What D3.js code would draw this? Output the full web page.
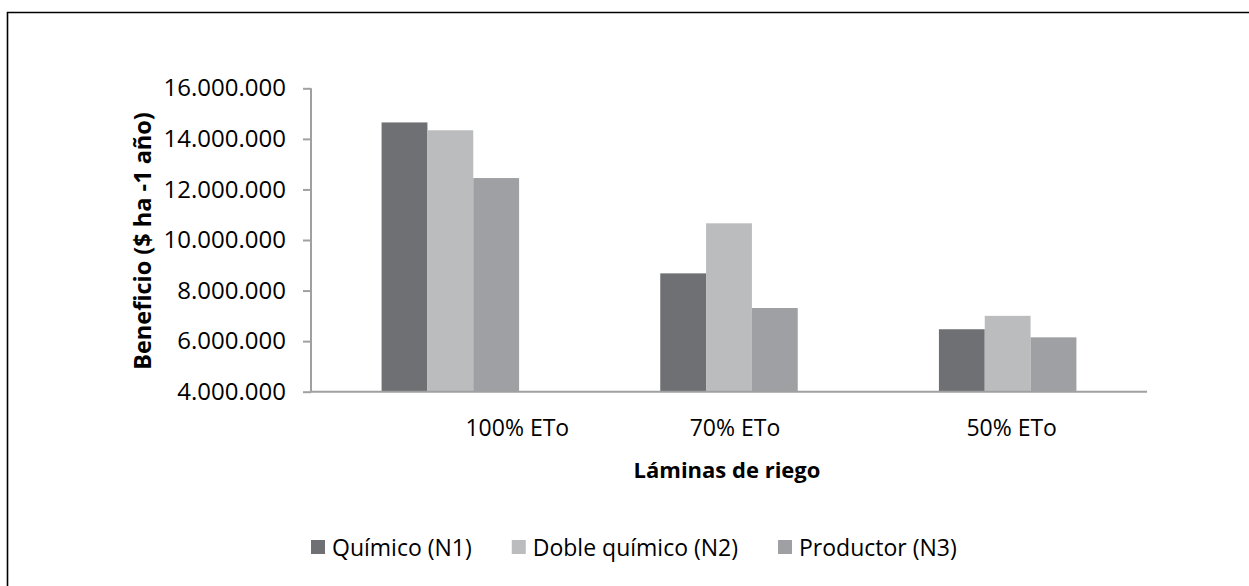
<!DOCTYPE html>
<html>
<head>
<meta charset="utf-8">
<script src="https://cdn.jsdelivr.net/npm/d3@7"></script>
<style>
  html, body { margin: 0; padding: 0; background: #fff; }
  svg { display: block; }
  text { font-family: "Open Sans", "DejaVu Sans", sans-serif; fill: #000; }
</style>
</head>
<body>
<svg id="chart" width="1249" height="586"></svg>
<script>
// ---- data ----
const categories = ["100% ETo", "70% ETo", "50% ETo"];
const seriesNames = ["Químico (N1)", "Doble químico (N2)", "Productor (N3)"];
const quimicoN1 = [14650000, 8680000, 6470000];
const dobleQuimicoN2 = [14340000, 10660000, 7000000];
const productorN3 = [12450000, 7310000, 6150000];
const yTicks = [4000000, 6000000, 8000000, 10000000, 12000000, 14000000, 16000000];
const seriesColors = ["#6f7074", "#bbbcbe", "#9fa0a4"];
const yTitle = "Beneficio ($ ha -1 año)";
const xTitle = "Láminas de riego";

const seriesValues = [quimicoN1, dobleQuimicoN2, productorN3];

// ---- layout ----
const svg = d3.select("#chart");
const plot = { left: 311, right: 1147, top: 88.3, bottom: 391.7 };

// frame
svg.append("path")
  .attr("d", `M7.5,586 L7.5,12.5 L1249,12.5`)
  .attr("fill", "none").attr("stroke", "#000").attr("stroke-width", 1.6);

const y = d3.scaleLinear().domain([4000000, 16000000]).range([plot.bottom, plot.top]);
const x0 = d3.scaleBand().domain(categories).range([plot.left, plot.right])
  .paddingInner(0.5066).paddingOuter(0.2533);
const x1 = d3.scaleBand().domain(seriesNames).range([0, x0.bandwidth()]);

const loc = d3.formatLocale({ decimal: ",", thousands: ".", grouping: [3], currency: ["$", ""] });
const fmt = loc.format(",.0f");

// bars
const groups = svg.append("g").selectAll("g")
  .data(categories).join("g")
  .attr("transform", d => `translate(${x0(d)},0)`);
groups.selectAll("rect")
  .data((c, ci) => seriesNames.map((s, si) => ({ s, si, v: seriesValues[si][ci] })))
  .join("rect")
  .attr("x", d => x1(d.s))
  .attr("width", x1.bandwidth())
  .attr("y", d => y(d.v))
  .attr("height", d => y(4000000) - y(d.v))
  .attr("fill", d => seriesColors[d.si]);

// y axis
const yAxis = d3.axisLeft(y).tickValues(yTicks).tickFormat(fmt).tickSize(8).tickPadding(17);
const gy = svg.append("g").attr("transform", `translate(${plot.left},0)`).call(yAxis);
gy.select(".domain").attr("stroke", "#a0a0a0").attr("stroke-width", 2).attr("d", `M0,${plot.top}V${plot.bottom}`);
gy.selectAll(".tick line").attr("stroke", "#a0a0a0").attr("stroke-width", 2);
gy.selectAll(".tick text").attr("font-size", 24).attr("font-family", "Open Sans").attr("fill", "#000");

// x axis line
svg.append("line")
  .attr("x1", plot.left).attr("x2", plot.right)
  .attr("y1", y(4000000)).attr("y2", y(4000000))
  .attr("stroke", "#a0a0a0").attr("stroke-width", 2);

// category labels (offset as in the original)
const labelShift = [67, 6, 4];
svg.append("g").selectAll("text")
  .data(categories).join("text")
  .attr("x", (d, i) => x0(d) + x0.bandwidth() / 2 + labelShift[i])
  .attr("y", 436)
  .attr("text-anchor", "middle")
  .attr("font-size", 23)
  .text(d => d);

// axis titles
svg.append("text")
  .attr("x", (plot.left + plot.right) / 2 - 2)
  .attr("y", 478)
  .attr("text-anchor", "middle")
  .attr("font-size", 22).attr("font-weight", "bold")
  .text(xTitle);

svg.append("text")
  .attr("transform", `translate(151,241) rotate(-90)`)
  .attr("text-anchor", "middle")
  .attr("font-size", 23.5).attr("font-weight", "bold")
  .text(yTitle);

// legend
const legend = svg.append("g");
let lx = 311;
seriesNames.forEach((s, i) => {
  legend.append("rect").attr("x", lx).attr("y", 540).attr("width", 14).attr("height", 14)
    .attr("fill", seriesColors[i]);
  const t = legend.append("text").attr("x", lx + 21).attr("y", 556).attr("font-size", 23).text(s);
  lx = lx + 21 + t.node().getComputedTextLength() + 40;
});
</script>
</body>
</html>
